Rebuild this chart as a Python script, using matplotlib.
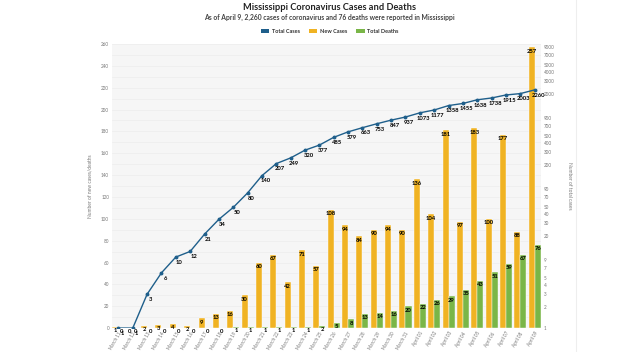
import numpy as np
import matplotlib.pyplot as plt
from matplotlib.patches import Patch
from matplotlib.lines import Line2D

plt.rcParams['font.family'] = ['Lato', 'DejaVu Sans']

# Dados
datas = ['March 11', 'March 12', 'March 13', 'March 14', 'March 15', 'March 16',
         'March 17', 'March 18', 'March 19', 'March 20', 'March 21', 'March 22',
         'March 23', 'March 24', 'March 25', 'March 26', 'March 27', 'March 28',
         'March 29', 'March 30', 'March 31', 'April 01', 'April 02', 'April 03',
         'April 04', 'April 05', 'April 06', 'April 07', 'April 08', 'April 09']
total_casos = [1, 1, 3, 6, 10, 12, 21, 34, 50, 80, 140, 207, 249, 320, 377, 485,
               579, 663, 753, 847, 937, 1073, 1177, 1358, 1455, 1638, 1738, 1915,
               2003, 2260]
novos_casos = [1, 0, 2, 3, 4, 2, 9, 13, 16, 30, 60, 67, 42, 71, 57, 108, 94, 84,
               90, 94, 90, 136, 104, 181, 97, 183, 100, 177, 88, 257]
total_mortes = [0, 0, 0, 0, 0, 0, 0, 0, 1, 1, 1, 1, 1, 1, 2, 5, 8, 13, 14, 16, 20,
                22, 26, 29, 35, 43, 51, 59, 67, 76]
ticks_direita = [1, 2, 3, 4, 5, 7, 9, 20, 30, 40, 50, 70, 90, 200, 300, 400, 500,
                 700, 900, 2000, 3000, 4000, 5000, 7000, 9000]

azul = '#1f5f8b'
laranja = '#f0b323'
verde = '#7ab648'

fig = plt.figure(figsize=(6.22, 3.52), dpi=100)
ax = fig.add_axes([0.180, 0.068, 0.690, 0.807])
ax.set_facecolor('#f6f6f6')
x = np.arange(len(datas))

for v in range(10, 261, 10):
    ax.axhline(v, color='#ececec', lw=0.5, zorder=0)

ax.bar(x - 0.21, novos_casos, width=0.42, color=laranja, edgecolor='white', lw=0.3, zorder=2)
ax.bar(x + 0.21, total_mortes, width=0.42, color=verde, edgecolor='white', lw=0.3, zorder=2)

for i in x:
    ax.annotate(str(novos_casos[i]), (i - 0.21, novos_casos[i]), xytext=(0, -1),
                textcoords='offset points', ha='center', va='top', fontsize=4.2,
                fontweight='bold', zorder=5)
    ax.annotate(str(total_mortes[i]), (i + 0.21, total_mortes[i]), xytext=(0, -1),
                textcoords='offset points', ha='center', va='top', fontsize=4.2,
                fontweight='bold', zorder=5)

ax.set_xlim(-0.45, len(datas) - 0.55)
ax.set_ylim(0, 260)
ax.set_yticks(range(0, 261, 20))
ax.set_xticks(x)
ax.set_xticklabels(datas, rotation=60, ha='right', rotation_mode='anchor')
ax.tick_params(axis='both', labelsize=3.3, colors='#777777', length=0, pad=2)
for s in ax.spines.values():
    s.set_visible(False)
ax.set_ylabel('Number of new cases/deaths', fontsize=3.5, color='#777777', labelpad=6)

ax2 = ax.twinx()
ax2.set_yscale('log')
ax2.set_ylim(1, 10000)
ax2.plot(x, total_casos, color=azul, lw=1.0, marker='o', ms=1.8, zorder=4)
for i in x:
    ax2.annotate(str(total_casos[i]), (i, total_casos[i]), xytext=(2.5, -2),
                 textcoords='offset points', ha='center', va='top', fontsize=4.2,
                 fontweight='bold', zorder=6)
ax2.set_yticks(ticks_direita)
ax2.set_yticklabels([str(t) for t in ticks_direita])
ax2.minorticks_off()
ax2.tick_params(axis='y', labelsize=3.3, colors='#777777', length=0, pad=2)
for s in ax2.spines.values():
    s.set_visible(False)
ax2.set_ylabel('Number of total cases', fontsize=3.5, color='#777777',
               rotation=-90, labelpad=12)

fig.text(0.53, 0.98, 'Mississippi Coronavirus Cases and Deaths', ha='center',
         va='center', fontsize=6.7, fontweight='bold', color='#222222')
fig.text(0.53, 0.951, 'As of April 9, 2,260 cases of coronavirus and 76 deaths were reported in Mississippi',
         ha='center', va='center', fontsize=4.9, fontweight='bold', color='#444444')

itens = [Patch(facecolor=azul, label='Total Cases'),
         Patch(facecolor=laranja, label='New Cases'),
         Patch(facecolor=verde, label='Total Deaths')]
leg = fig.legend(handles=itens, loc='center', bbox_to_anchor=(0.53, 0.91), ncol=3,
                 frameon=False, fontsize=4.0, handlelength=1.6, handleheight=0.7,
                 columnspacing=1.5, handletextpad=0.5)
for t in leg.get_texts():
    t.set_fontweight('bold')
    t.set_color('#333333')

fig.add_artist(Line2D([0.926, 0.926], [0, 1], color='#eeeeee', lw=0.8))

fig.savefig('out.png', dpi=100)
